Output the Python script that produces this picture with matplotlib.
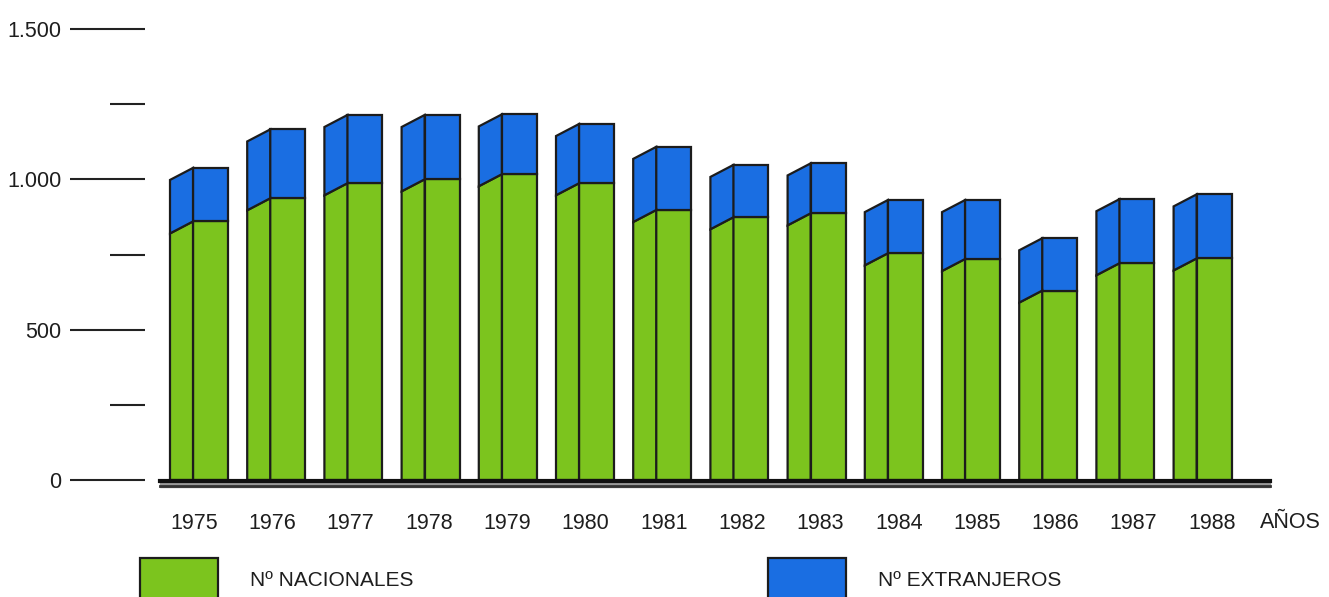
import matplotlib
matplotlib.use('Agg')
import matplotlib.pyplot as plt
from matplotlib.patches import Polygon, Rectangle
import numpy as np

years = ['1975', '1976', '1977', '1978', '1979', '1980', '1981',
         '1982', '1983', '1984', '1985', '1986', '1987', '1988']
nacionales = [860, 937, 987, 1000, 1017, 987, 898, 874, 887, 754, 735, 630, 721, 737]
extranjeros = [178, 229, 227, 214, 199, 197, 210, 174, 166, 177, 196, 174, 213, 213]
yticks = [0, 500, 1000, 1500]
ytick_labels = ['0', '500', '1.000', '1.500']
minor_ticks = [250, 750, 1250]
legend_labels = ['Nº NACIONALES', 'Nº EXTRANJEROS']

GREEN = '#7cc41e'
BLUE = '#1a6ee2'
EDGE = '#1c1c1c'
TXT = '#1e1e1e'
plt.rcParams['font.family'] = ['Liberation Sans', 'DejaVu Sans']

W, H = 1329, 597
fig = plt.figure(figsize=(W / 100, H / 100), dpi=100)
fig.patch.set_facecolor('white')

# axes: value 0 at y=480px, 1500 at y=29px (from top)
ax_left = 145
ax = fig.add_axes([ax_left / W, (H - 480) / H, (W - ax_left) / W, 451 / H])
step = 77.2          # px between bars
c0 = 210.5           # px centre of first front face
ax.set_xlim((ax_left - c0) / step, (W - c0) / step)
ax.set_ylim(0, 1500)

x = np.arange(len(years))
w = 35 / step        # front face width
d = 23 / step        # side face depth
drop = 40            # side face slant (value units)
nac = np.array(nacionales)
tot = nac + np.array(extranjeros)

ax.bar(x, nac, width=w, color=GREEN, edgecolor=EDGE, linewidth=1.6, zorder=3)
ax.bar(x, extranjeros, bottom=nac, width=w, color=BLUE, edgecolor=EDGE,
       linewidth=1.6, zorder=3)

# left side faces for the pseudo-3d look
for xi, n, t in zip(x, nac, tot):
    xl = xi - w / 2
    xs = xl - d
    ax.add_patch(Polygon([(xs, 0), (xl, 0), (xl, n), (xs, n - drop)],
                         closed=True, facecolor=GREEN, edgecolor=EDGE,
                         linewidth=1.6, zorder=3))
    ax.add_patch(Polygon([(xs, n - drop), (xl, n), (xl, t), (xs, t - drop)],
                         closed=True, facecolor=BLUE, edgecolor=EDGE,
                         linewidth=1.6, zorder=3))

# base line (double rule)
bx0, bx1 = (160 - c0) / step, (1270 - c0) / step
ax.fill_between([bx0, bx1], -4, -22, color='#9a9a9a', clip_on=False, zorder=2)
ax.plot([bx0, bx1], [-4, -4], color='#111111', lw=3, clip_on=False, zorder=4)
ax.plot([bx0, bx1], [-21, -21], color='#333333', lw=2, clip_on=False, zorder=4)

for s in ax.spines.values():
    s.set_visible(False)
ax.set_facecolor('none')

ax.set_yticks(yticks)
ax.set_yticklabels(ytick_labels)
ax.set_yticks(minor_ticks, minor=True)
ax.tick_params(axis='y', which='major', length=54, width=1.5, color='#222222',
               pad=6, labelsize=15.5, labelcolor=TXT)
ax.tick_params(axis='y', which='minor', length=25, width=1.5, color='#222222')

label_pos = (194 - c0) / step + x * 78.3 / step
ax.set_xticks(label_pos)
ax.set_xticklabels(years)
ax.tick_params(axis='x', length=0, pad=24, labelsize=15.5, labelcolor=TXT)
ax.text((1290 - c0) / step, -32 / 0.3007, 'AÑOS', fontsize=15.5, color=TXT,
        ha='center', va='top', clip_on=False)

# legend swatches at the bottom
for px, col, lab in [(140, GREEN, legend_labels[0]), (768, BLUE, legend_labels[1])]:
    fig.patches.append(Rectangle((px / W, -5 / H), 78 / W, 44 / H,
                                 transform=fig.transFigure, facecolor=col,
                                 edgecolor=EDGE, linewidth=1.6))
    fig.text((px + 110) / W, (H - 580) / H, lab, fontsize=15, color=TXT,
             ha='left', va='center')

fig.savefig('out.png', dpi=100)
